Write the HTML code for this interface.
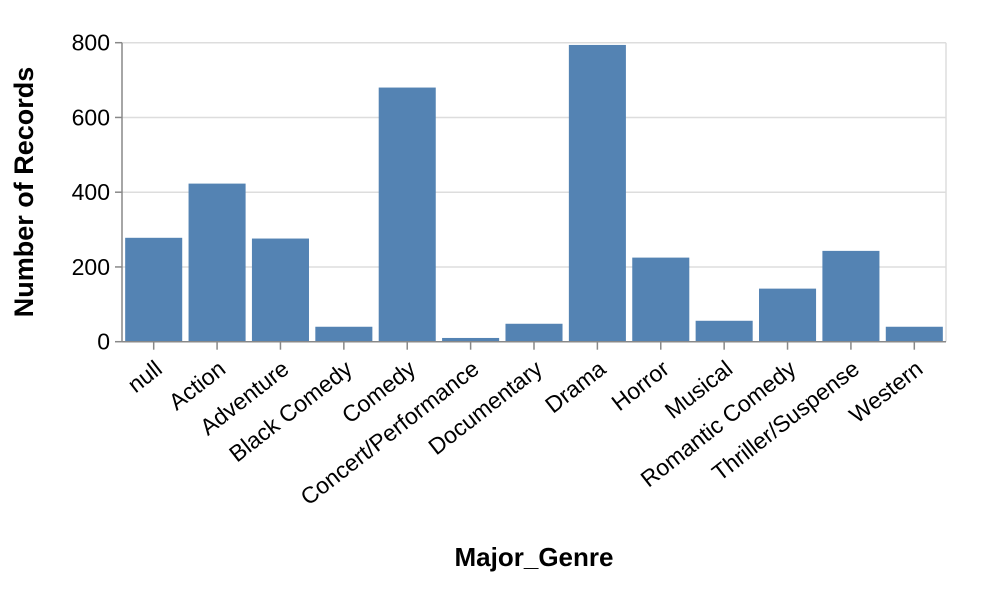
<!DOCTYPE html>
<html><head><meta charset="utf-8"><style>
body{margin:0;background:#fff;}
svg text{font-family:"Liberation Sans",Arial,sans-serif;}
</style></head><body>
<svg id="chart" width="988" height="584" xmlns="http://www.w3.org/2000/svg"></svg>
<script>
const categories=["null","Action","Adventure","Black Comedy","Comedy","Concert/Performance","Documentary","Drama","Horror","Musical","Romantic Comedy","Thriller/Suspense","Western"];
const values=[278,423,276,40,680,10,48,794,225,56,142,243,40];
const yTicks=[0,200,400,600,800];
const NS="http://www.w3.org/2000/svg";
const svg=document.getElementById('chart');
const L=122,R=946,T=42.7,B=341.7,yMax=800;
const band=(R-L)/categories.length;
const x=i=>L+i*band;
const y=v=>B-(v/yMax)*(B-T);
function mk(tag,attrs,parent){const e=document.createElementNS(NS,tag);for(const k in attrs)e.setAttribute(k,attrs[k]);(parent||svg).appendChild(e);return e;}
yTicks.forEach(t=>{
  const g=mk('line',{x1:L,x2:R,y1:y(t),y2:y(t),stroke:'#ddd','stroke-width':1.5});
  
  
});
mk('line',{x1:R,x2:R,y1:T,y2:B,stroke:'#ddd','stroke-width':1.5});
values.forEach((v,i)=>{
  const r=mk('rect',{x:x(i)+band*0.05,y:y(v),width:band*0.9,height:B-y(v),fill:'#5483b3'});
  
  
});
const ax=mk('line',{x1:L,x2:L,y1:T,y2:B,stroke:'#888','stroke-width':1.5});


const xa=mk('line',{x1:L,x2:R,y1:B,y2:B,stroke:'#888','stroke-width':1.5});


yTicks.forEach(t=>{
  mk('line',{x1:L-7,x2:L,y1:y(t),y2:y(t),stroke:'#888','stroke-width':1.5});
  const tx=mk('text',{x:L-12,y:y(t)+8,'text-anchor':'end','font-size':23,fill:'#000'});
  tx.textContent=t;
  
  
});
categories.forEach((c,i)=>{
  const cx=x(i)+band/2;
  mk('line',{x1:cx,x2:cx,y1:B,y2:B+8,stroke:'#888','stroke-width':1.5});
  const ex=cx+10,ey=B+30;
  const tx=mk('text',{x:ex,y:ey,'text-anchor':'end','font-size':23,fill:'#000',transform:`rotate(-38 ${ex} ${ey})`});
  tx.textContent=c;
  
  
});
const xt=mk('text',{x:534,y:566,'text-anchor':'middle','font-size':26,'font-weight':'bold',fill:'#000'});
xt.textContent='Major_Genre';


const yt=mk('text',{x:33,y:192,'text-anchor':'middle','font-size':27,'font-weight':'bold',fill:'#000',transform:'rotate(-90 33 192)'});
yt.textContent='Number of Records';


</script>
</body></html>
